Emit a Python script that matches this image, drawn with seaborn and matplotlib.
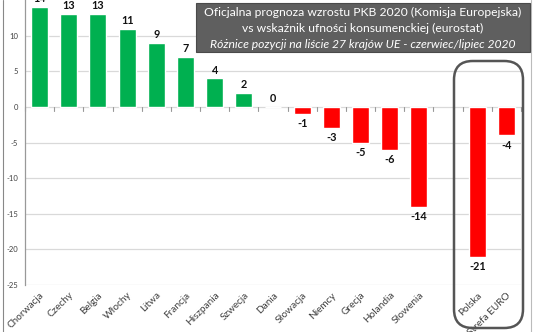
import matplotlib
matplotlib.use("Agg")
import matplotlib.pyplot as plt
import seaborn as sns
import pandas as pd
from matplotlib.patches import FancyBboxPatch

countries = ["Chorwacja", "Czechy", "Belgia", "Włochy", "Litwa", "Francja", "Hiszpania",
             "Szwecja", "Dania", "Słowacja", "Niemcy", "Grecja", "Holandia", "Słowenia",
             "Polska", "Strefa EURO"]
values = [14, 13, 13, 11, 9, 7, 4, 2, 0, -1, -3, -5, -6, -14, -21, -4]
order = countries[:14] + [" "] + countries[14:]
title_lines = ["Oficjalna prognoza wzrostu PKB 2020 (Komisja Europejska)",
               "vs wskaźnik ufności konsumenckiej (eurostat)",
               "Różnice pozycji na liście 27 krajów UE - czerwiec/lipiec 2020"]
yticks = [-25, -20, -15, -10, -5, 0, 5, 10]

GREEN = "#00B050"
RED = "#FF0000"

df = pd.DataFrame({"kraj": countries, "wartosc": values})
palette = {c: (GREEN if v > 0 else RED) for c, v in zip(countries, values)}

sns.set_style("white")
plt.rcParams["font.family"] = ["Lato", "DejaVu Sans"]

fig = plt.figure(figsize=(5.36, 3.32), dpi=100)
ax = fig.add_axes([25/536, 47/332, 496/536, 285/332])

sns.barplot(data=df, x="kraj", y="wartosc", hue="kraj", order=order, palette=palette,
            legend=False, width=0.58, saturation=1, ax=ax, zorder=3)

ax.set_ylim(-25, 15)
ax.set_xlim(-0.5, len(order) - 0.5)
ax.set_yticks(yticks)
ax.set_yticklabels([str(t) for t in yticks], fontsize=5.5, color="#404040")
ax.tick_params(axis="y", length=3, color="#888888", pad=2)
for t in yticks:
    ax.axhline(t, color="#d9d9d9", lw=0.9, zorder=1)

ax.set_xticks(range(len(order)))
ax.set_xticklabels(order, rotation=45, ha="right", rotation_mode="anchor",
                   fontsize=7.2, color="#404040")
ax.tick_params(axis="x", length=0, pad=4)
ax.set_xlabel("")
ax.set_ylabel("")

for s in ["top", "right", "bottom"]:
    ax.spines[s].set_visible(False)
ax.spines["left"].set_color("#999999")
ax.spines["left"].set_linewidth(0.9)

# category boundary tick marks on the zero line
for i in range(len(order) + 1):
    b = i - 0.5
    ax.plot([b, b], [0, -0.55], color="#999999", lw=0.8, zorder=2, clip_on=False)

# value labels
for c, v in zip(countries, values):
    x = order.index(c)
    if v >= 0:
        ax.annotate(str(v), (x, v), xytext=(0, 2), textcoords="offset points",
                    ha="center", va="bottom", fontsize=7.8, fontweight="bold", color="#111111")
    else:
        ax.annotate(str(v), (x, v), xytext=(0, -3), textcoords="offset points",
                    ha="center", va="top", fontsize=7.8, fontweight="bold", color="#111111")

# title box
tb = FancyBboxPatch((196/536, 1 - 52/332), 334/536, 49/332, boxstyle="square,pad=0",
                    transform=fig.transFigure, facecolor="#5f5f5f", edgecolor="#4a4a4a",
                    lw=0.8, zorder=10)
fig.patches.append(tb)
ys = [12, 28, 44]
for i, (line, y) in enumerate(zip(title_lines, ys)):
    fig.text(363/536, 1 - y/332, line, ha="center", va="center", color="white",
             fontsize=8.7, fontstyle="italic" if i == 2 else "normal", zorder=11)

# rounded highlight box
hb = FancyBboxPatch((454/536, 4/332), 69/536, (328 - 61)/332 - 0.0,
                    boxstyle="round,pad=0,rounding_size=0.035",
                    transform=fig.transFigure, facecolor="none", edgecolor="#555555",
                    lw=1.8, zorder=12, mutation_aspect=536/332)
fig.patches.append(hb)

# outer frame lines
fig.add_artist(plt.Line2D([3/536, 3/536], [0, 1], color="#888888", lw=0.8, transform=fig.transFigure))
fig.add_artist(plt.Line2D([531/536, 531/536], [0, 1], color="#bbbbbb", lw=0.8, transform=fig.transFigure))

fig.savefig("out.png", dpi=100)
